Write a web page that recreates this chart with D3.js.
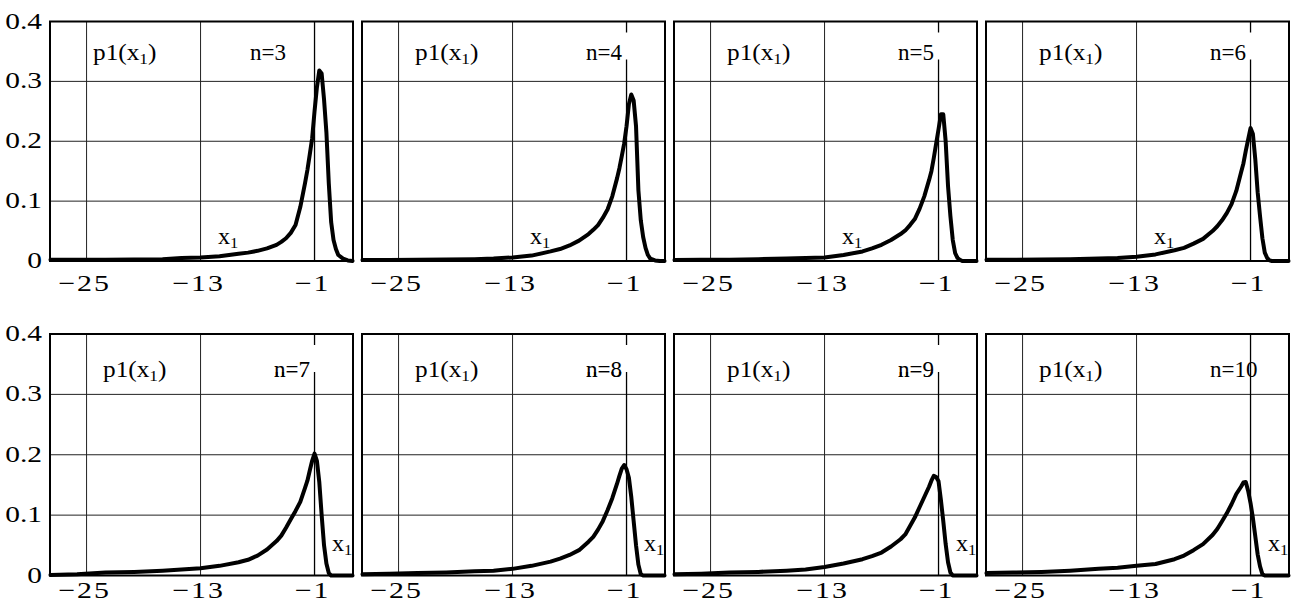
<!DOCTYPE html>
<html><head><meta charset="utf-8">
<script src="https://cdn.jsdelivr.net/npm/d3@7"></script>
<style>
body{margin:0;background:#fff}
svg{display:block}
text{font-family:"Liberation Serif","Times New Roman",serif;fill:#000}
</style>
</head><body>
<svg id="chart" width="1299" height="607"></svg>
<script>
// ---- data ----
const xGrid = [-28.8,-26,-23,-20,-17,-15,-13,-11,-9,-8,-7,-6,-5,-4.5,-4,-3.5,-3,-2.5,-2,-1.75,-1.5,-1.25,-1,-0.75,-0.5,-0.25,0,0.25,0.5,0.75,1,1.25,1.5,2,2.5,3];
const nValues = [3,4,5,6,7,8,9,10];
const p1_n3  = [0.002,0.002,0.002,0.0025,0.003,0.005,0.006,0.008,0.012,0.014,0.017,0.021,0.027,0.032,0.038,0.047,0.06,0.09,0.13,0.152,0.178,0.205,0.25,0.29,0.318,0.313,0.27,0.215,0.13,0.065,0.035,0.02,0.01,0.004,0.001,0];
const p1_n4  = [0.0015,0.0015,0.002,0.0025,0.003,0.004,0.006,0.009,0.016,0.02,0.026,0.034,0.045,0.052,0.06,0.072,0.086,0.108,0.138,0.155,0.175,0.196,0.225,0.262,0.278,0.268,0.225,0.118,0.068,0.04,0.022,0.01,0.004,0.001,0,0];
const p1_n5  = [0.0015,0.002,0.002,0.003,0.004,0.005,0.006,0.01,0.016,0.021,0.027,0.035,0.045,0.051,0.06,0.07,0.087,0.108,0.135,0.15,0.172,0.196,0.22,0.245,0.245,0.2,0.125,0.075,0.035,0.013,0.005,0.002,0,0,0,0];
const p1_n6  = [0.002,0.002,0.0025,0.003,0.004,0.005,0.007,0.011,0.018,0.022,0.029,0.037,0.05,0.058,0.068,0.08,0.095,0.117,0.148,0.163,0.184,0.203,0.222,0.212,0.17,0.115,0.075,0.038,0.014,0.005,0.001,0,0,0,0,0];
const p1_n7  = [0.001,0.002,0.005,0.006,0.008,0.01,0.012,0.016,0.022,0.026,0.033,0.043,0.057,0.066,0.079,0.093,0.107,0.122,0.145,0.157,0.174,0.19,0.202,0.19,0.155,0.1,0.05,0.02,0.004,0,0,0,0,0,0,0];
const p1_n8  = [0.002,0.003,0.004,0.005,0.007,0.008,0.011,0.016,0.023,0.028,0.034,0.042,0.056,0.064,0.076,0.09,0.108,0.128,0.152,0.165,0.177,0.183,0.176,0.162,0.13,0.09,0.05,0.018,0.002,0,0,0,0,0,0,0];
const p1_n9  = [0.002,0.003,0.005,0.006,0.008,0.01,0.014,0.02,0.027,0.032,0.038,0.048,0.06,0.068,0.082,0.096,0.113,0.13,0.147,0.157,0.165,0.163,0.156,0.125,0.09,0.052,0.022,0.005,0,0,0,0,0,0,0,0];
const p1_n10 = [0.004,0.005,0.006,0.008,0.011,0.013,0.016,0.019,0.027,0.033,0.042,0.052,0.067,0.077,0.09,0.103,0.118,0.135,0.147,0.154,0.155,0.14,0.12,0.095,0.065,0.035,0.015,0.002,0,0,0,0,0,0,0,0];
const seriesList = [p1_n3,p1_n4,p1_n5,p1_n6,p1_n7,p1_n8,p1_n9,p1_n10];
const xTicks = [-25,-13,-1];
const xTickLabels = ["\u221225","\u221213","\u22121"];
const yTicks = [0,0.1,0.2,0.3,0.4];
const yTickLabels = ["0","0.1","0.2","0.3","0.4"];
const xDomain = [-28.85,3.05];
const yDomain = [0,0.4];

// ---- layout ----
const svg = d3.select("#chart");
const colLeft = [50,362,674,986];
const panelW = 303;
const rows = [
  {top:21.5, bottom:261, xLabY:291, lblY:60, x1Y:244, x1X:168},
  {top:334, bottom:575.5, xLabY:598, lblY:377, x1Y:551, x1X:282}
];
const FS = 23;

function stretchedText(g, x, y, sx, anchor){
  const gg = g.append("g").attr("transform",`translate(${x},${y}) scale(${sx},1)`);
  return gg.append("text").attr("x",0).attr("y",0).attr("text-anchor",anchor).style("font-size",FS+"px");
}

nValues.forEach((n,i)=>{
  const r = rows[Math.floor(i/4)];
  const c = i%4;
  const left = colLeft[c];
  const x = d3.scaleLinear().domain(xDomain).range([left,left+panelW]);
  const y = d3.scaleLinear().domain(yDomain).range([r.bottom,r.top]);
  const g = svg.append("g");

  // horizontal gridlines
  g.selectAll(".hg").data(yTicks.slice(1,-1)).enter().append("line")
    .attr("x1",left).attr("x2",left+panelW)
    .attr("y1",d=>y(d)).attr("y2",d=>y(d))
    .attr("stroke","#222").attr("stroke-width",1);
  // vertical gridlines
  g.selectAll(".vg").data(xTicks).enter().append("line")
    .attr("x1",d=>x(d)).attr("x2",d=>x(d))
    .attr("y1",r.top).attr("y2",r.bottom)
    .attr("stroke",d=>d===-1?"#000":"#222").attr("stroke-width",d=>d===-1?1.3:1);

  // labels
  const shiftFirst = (i===0);
  const pX = left + (shiftFirst?43:53);
  const nX = left + (shiftFirst?200:224);
  const nSx = 1.0;
  const nt = stretchedText(g, nX, r.lblY, nSx, "start").text("n="+n);
  const bb = nt.node().getBBox();
  const nEnd = nX + bb.width*nSx;
  const lineX = x(-1);
  if(nEnd < lineX && nEnd > lineX-15){
    g.append("rect").attr("x",nX-2).attr("y",r.top+11).attr("width",lineX+3-(nX-2)).attr("height",27).attr("fill","#fff");
    stretchedText(g, nX, r.lblY, nSx, "start").text("n="+n);
  }
  const pt = stretchedText(g, pX, r.lblY, 1.1, "start");
  pt.append("tspan").text("p1(x");
  pt.append("tspan").attr("dy",4).style("font-size",(FS*0.68)+"px").text("1");
  pt.append("tspan").attr("dy",-4).text(")");

  const xt = stretchedText(g, left + r.x1X, r.x1Y, 1.05, "start");
  xt.append("tspan").text("x");
  xt.append("tspan").attr("dy",4).style("font-size",(FS*0.68)+"px").text("1");

  // frame
  g.append("rect").attr("x",left).attr("y",r.top).attr("width",panelW).attr("height",r.bottom-r.top)
    .attr("fill","none").attr("stroke","#000").attr("stroke-width",2);

  // curve
  const line = d3.line().x((d,k)=>x(xGrid[k])).y(d=>y(d));
  g.append("path").datum(seriesList[i]).attr("d",line)
    .attr("fill","none").attr("stroke","#000").attr("stroke-width",4)
    .attr("stroke-linejoin","round").attr("stroke-linecap","round");

  // x tick labels
  xTicks.forEach((t,k)=>{
    stretchedText(g, x(t)-2, r.xLabY, 1.3, "middle").style("letter-spacing","1.5px").text(xTickLabels[k]);
  });
  // y tick labels on first column
  if(c===0){
    yTicks.forEach((t,k)=>{
      stretchedText(g, 42, y(t)+7, 1.28, "end").text(yTickLabels[k]);
    });
  }
});
</script>
</body></html>
